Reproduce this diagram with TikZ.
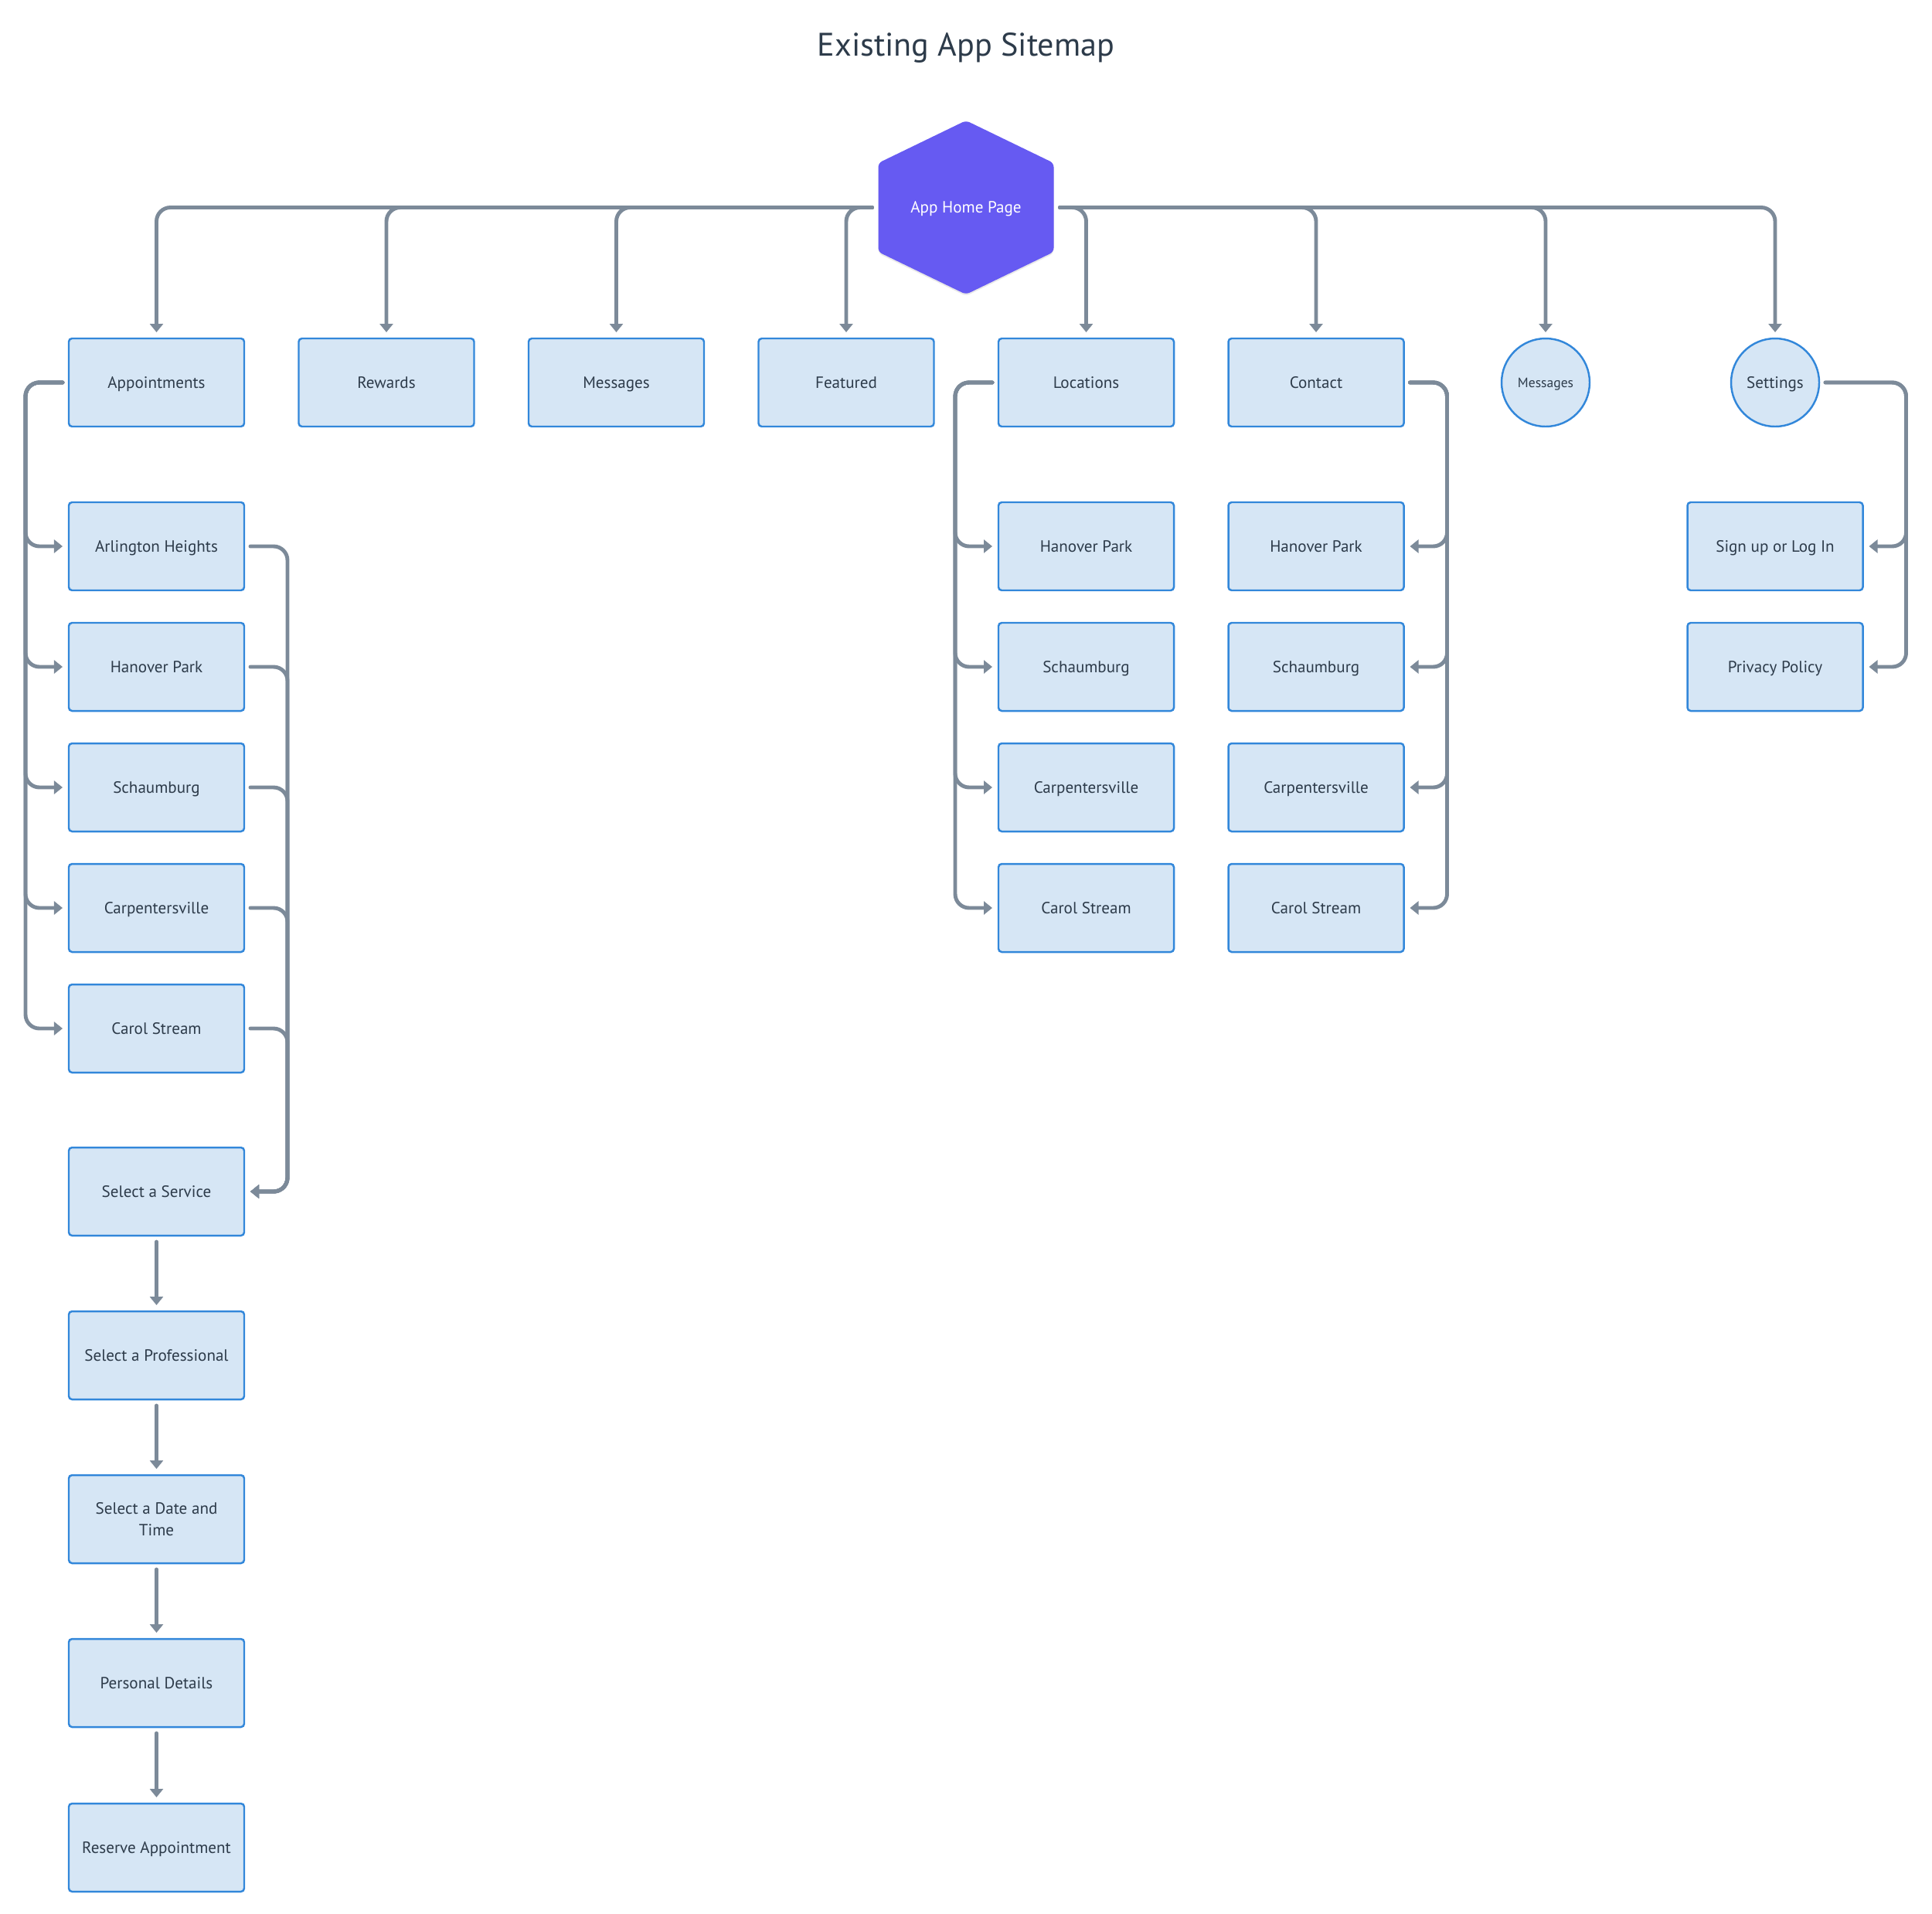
\documentclass[tikz,border=0pt]{standalone}
\usepackage{fontspec}
\setmainfont{PT Sans}
\usetikzlibrary{arrows.meta,shadows,positioning}
\definecolor{BoxFill}{RGB}{214,230,245}
\definecolor{BoxLine}{RGB}{50,135,218}
\definecolor{LinkGray}{RGB}{124,138,153}
\definecolor{HomePurple}{RGB}{102,90,242}
\definecolor{InkDark}{RGB}{45,59,74}
\tikzset{
  abox/.style={draw=BoxLine,fill=BoxFill,rounded corners=1.2pt,
               minimum width=2.27cm,minimum height=1.14cm,
               font=\fontsize{6}{8}\selectfont,text=InkDark,align=center,
               text height=4.2pt,text depth=0pt,
               line width=0.7pt,outer sep=0.08cm},
  cbox/.style={circle,draw=BoxLine,fill=BoxFill,minimum size=1.14cm,inner sep=0pt,
               font=\fontsize{6}{8}\selectfont,text=InkDark,
               text height=4.2pt,text depth=0pt,
               line width=0.7pt,outer sep=0.08cm},
  hbox/.style={minimum width=2.27cm,minimum height=2.25cm,outer sep=0.08cm,
               font=\fontsize{6}{8}\selectfont,text=white,
               text height=4.2pt,text depth=0pt},
  arr/.style={-{Triangle[length=0.11cm,width=0.17cm]},LinkGray,line width=1.4pt,
              rounded corners=0.18cm,line cap=round},
}

\begin{document}
\begin{tikzpicture}
            \useasboundingbox (0,0) rectangle (25,-24.76);
            \node[anchor=base, font=\fontsize{12}{14}\selectfont, text=InkDark] (title) at (12.5, -0.72) {Existing App Sitemap};

            % home page hexagon
            \coordinate (hc) at (12.5, -2.685);
            \fill[HomePurple, shift={(hc)}, rounded corners=1.5pt,
                  drop shadow={opacity=0.18, shadow xshift=0pt, shadow yshift=-0.6pt}]
              (0,1.125) -- (1.135,0.575) -- (1.135,-0.575) -- (0,-1.125)
              -- (-1.135,-0.575) -- (-1.135,0.575) -- cycle;
            \node[hbox] (home) at (hc) {App Home Page};

            % top level
            \node[abox] (appt) at (2.025, -4.95) {Appointments};
            \node[abox] (rew) at (5.0, -4.95) {Rewards};
            \node[abox] (msg) at (7.975, -4.95) {Messages};
            \node[abox] (feat) at (10.95, -4.95) {Featured};
            \node[abox] (loc) at (14.055, -4.95) {Locations};
            \node[abox] (con) at (17.03, -4.95) {Contact};
            \node[cbox, font=\fontsize{5}{6}\selectfont, text height=3.5pt] (msgc) at (20.0, -4.95) {Messages};
            \node[cbox] (set) at (22.97, -4.95) {Settings};

            % appointments branch
            \node[abox] (aah) at (2.025, -7.07) {Arlington Heights};
            \node[abox] (ahp) at (2.025, -8.63) {Hanover Park};
            \node[abox] (asch) at (2.025, -10.19) {Schaumburg};
            \node[abox] (acar) at (2.025, -11.75) {Carpentersville};
            \node[abox] (acs) at (2.025, -13.31) {Carol Stream};

            \node[abox] (svc) at (2.025, -15.42) {Select a Service};
            \node[abox] (pro) at (2.025, -17.54) {Select a Professional};
            \node[abox, text height=, text depth=] (dat) at (2.025, -19.66) {Select a Date and\\Time};
            \node[abox] (per) at (2.025, -21.78) {Personal Details};
            \node[abox] (res) at (2.025, -23.91) {Reserve Appointment};

            % locations and contact branches
            \node[abox] (lhp) at (14.055, -7.07) {Hanover Park};
            \node[abox] (lsch) at (14.055, -8.63) {Schaumburg};
            \node[abox] (lcar) at (14.055, -10.19) {Carpentersville};
            \node[abox] (lcs) at (14.055, -11.75) {Carol Stream};

            \node[abox] (chp) at (17.03, -7.07) {Hanover Park};
            \node[abox] (csch) at (17.03, -8.63) {Schaumburg};
            \node[abox] (ccar) at (17.03, -10.19) {Carpentersville};
            \node[abox] (ccs) at (17.03, -11.75) {Carol Stream};

            % settings branch
            \node[abox] (sgn) at (22.97, -7.07) {Sign up or Log In};
            \node[abox] (pri) at (22.97, -8.63) {Privacy Policy};

            % connectors
            \draw[arr] (home.west) -| (appt.north);
            \draw[arr] (home.west) -| (rew.north);
            \draw[arr] (home.west) -| (msg.north);
            \draw[arr] (home.west) -| (feat.north);
            \draw[arr] (home.east) -| (loc.north);
            \draw[arr] (home.east) -| (con.north);
            \draw[arr] (home.east) -| (msgc.north);
            \draw[arr] (home.east) -| (set.north);

            \draw[arr] (appt.west) -- ++(-0.48,0) |- (aah.west);
            \draw[arr] (appt.west) -- ++(-0.48,0) |- (ahp.west);
            \draw[arr] (appt.west) -- ++(-0.48,0) |- (asch.west);
            \draw[arr] (appt.west) -- ++(-0.48,0) |- (acar.west);
            \draw[arr] (appt.west) -- ++(-0.48,0) |- (acs.west);

            \draw[arr] (aah.east) -- ++(0.48,0) |- (svc.east);
            \draw[arr] (ahp.east) -- ++(0.48,0) |- (svc.east);
            \draw[arr] (asch.east) -- ++(0.48,0) |- (svc.east);
            \draw[arr] (acar.east) -- ++(0.48,0) |- (svc.east);
            \draw[arr] (acs.east) -- ++(0.48,0) |- (svc.east);

            \draw[arr] (svc) -- (pro);
            \draw[arr] (pro) -- (dat);
            \draw[arr] (dat) -- (per);
            \draw[arr] (per) -- (res);

            \draw[arr] (loc.west) -- ++(-0.48,0) |- (lhp.west);
            \draw[arr] (loc.west) -- ++(-0.48,0) |- (lsch.west);
            \draw[arr] (loc.west) -- ++(-0.48,0) |- (lcar.west);
            \draw[arr] (loc.west) -- ++(-0.48,0) |- (lcs.west);

            \draw[arr] (con.east) -- ++(0.48,0) |- (chp.east);
            \draw[arr] (con.east) -- ++(0.48,0) |- (csch.east);
            \draw[arr] (con.east) -- ++(0.48,0) |- (ccar.east);
            \draw[arr] (con.east) -- ++(0.48,0) |- (ccs.east);

            \draw[arr] (set.east) -| ([xshift=0.48cm]sgn.east) -- (sgn.east);
            \draw[arr] (set.east) -| ([xshift=0.48cm]pri.east) -- (pri.east);
\end{tikzpicture}
\end{document}
